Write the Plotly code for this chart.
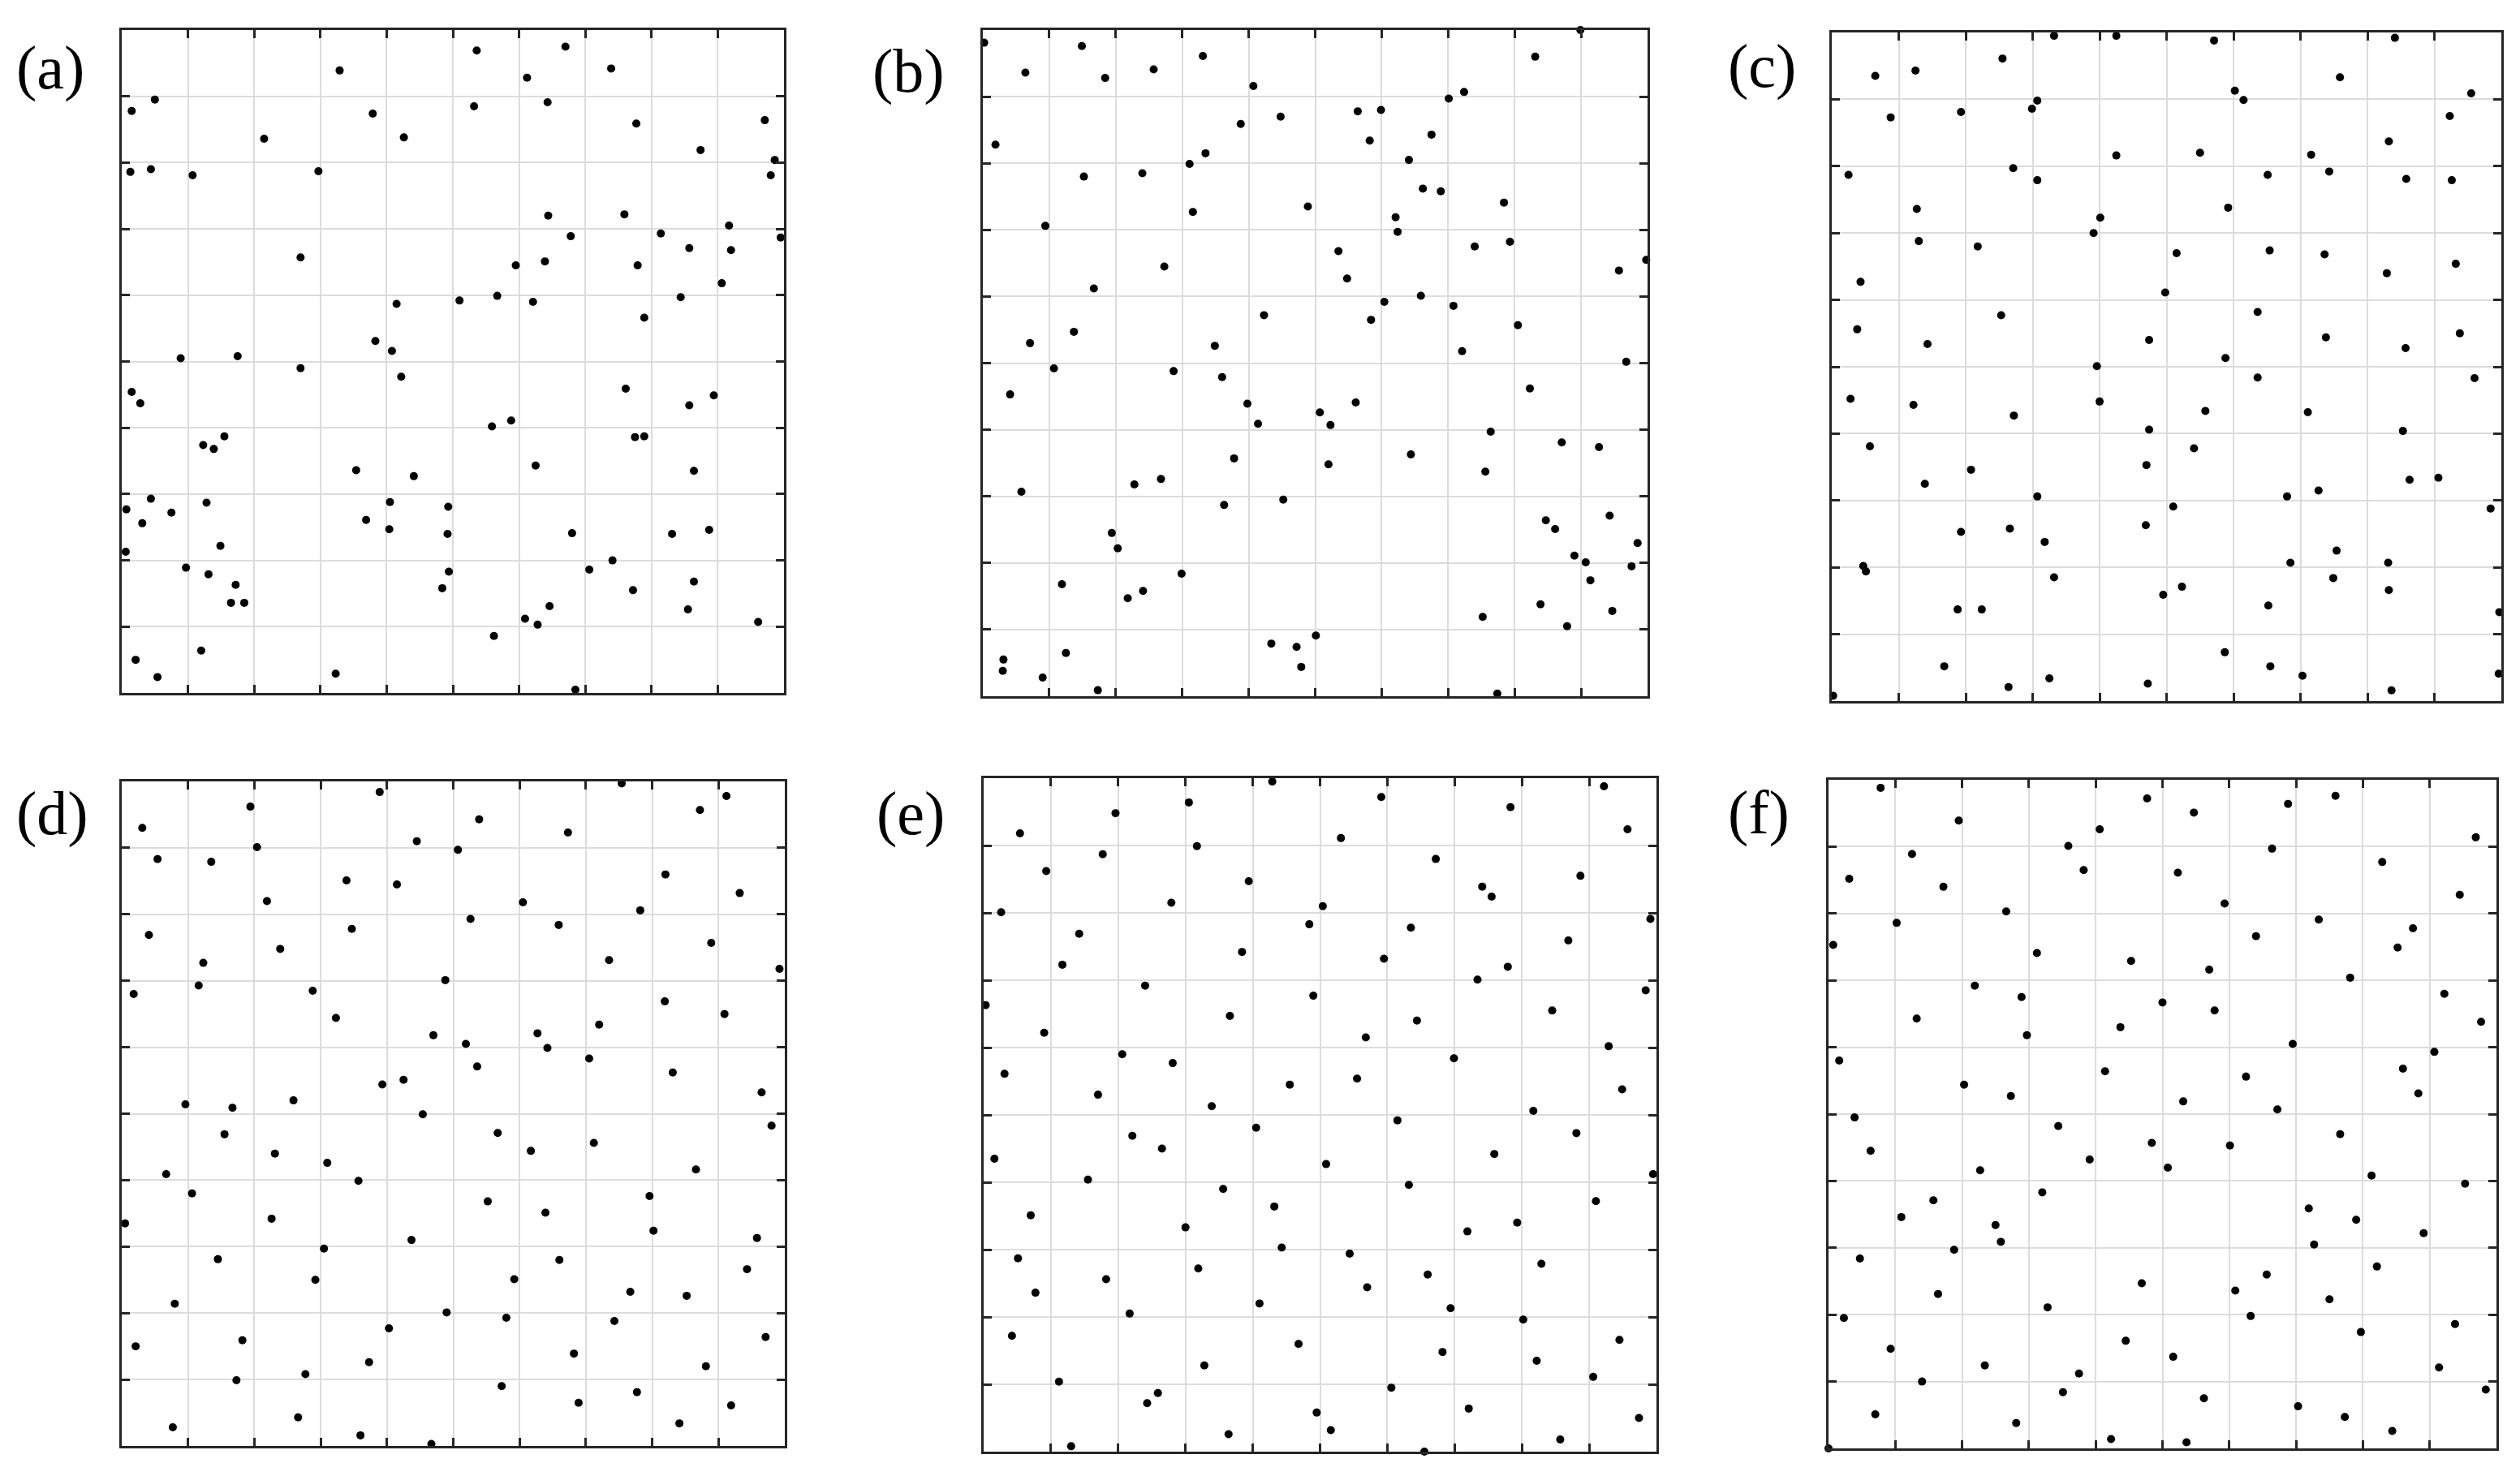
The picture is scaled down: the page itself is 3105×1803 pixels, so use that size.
import plotly.graph_objects as go

# ---------------- data (unit square, 6 point sets) ----------------
a_x = [0.536,0.670,0.329,0.739,0.612,0.050,0.015,0.532,0.643,0.379,0.777,0.971,0.215,0.426,0.874,0.986,0.013,0.044,0.107,0.297,
       0.980,0.644,0.759,0.917,0.678,0.814,0.995,0.857,0.920,0.270,0.639,0.595,0.779,0.906,0.510,0.567,0.621,0.415,0.844,0.789,
       0.383,0.408,0.089,0.175,0.270,0.422,0.015,0.028,0.761,0.857,0.894,0.559,0.588,0.123,0.139,0.155,0.775,0.789,0.354,0.441,
       0.625,0.864,0.007,0.044,0.075,0.128,0.031,0.405,0.493,0.369,0.404,0.492,0.680,0.831,0.887,0.006,0.149,0.097,0.131,0.172,
       0.165,0.185,0.494,0.484,0.706,0.741,0.772,0.864,0.646,0.855,0.609,0.628,0.961,0.562,0.120,0.021,0.054,0.323,0.685]
a_y = [0.969,0.975,0.939,0.942,0.928,0.895,0.878,0.885,0.891,0.874,0.859,0.864,0.836,0.838,0.819,0.804,0.786,0.790,0.781,0.787,
       0.781,0.720,0.722,0.705,0.689,0.693,0.687,0.671,0.668,0.657,0.651,0.645,0.645,0.618,0.592,0.599,0.590,0.587,0.597,0.566,
       0.531,0.516,0.505,0.508,0.490,0.477,0.454,0.437,0.459,0.434,0.449,0.402,0.411,0.374,0.368,0.387,0.386,0.387,0.336,0.327,
       0.343,0.335,0.277,0.293,0.272,0.287,0.256,0.288,0.281,0.261,0.247,0.240,0.241,0.240,0.246,0.213,0.222,0.189,0.179,0.163,
       0.136,0.136,0.183,0.158,0.186,0.200,0.155,0.168,0.131,0.126,0.112,0.103,0.107,0.086,0.064,0.050,0.024,0.029,0.005]

b_x = [0.002,0.149,0.331,0.899,0.831,0.064,0.257,0.184,0.407,0.724,0.701,0.564,0.599,0.448,0.388,0.675,0.582,0.019,0.335,0.641,
       0.311,0.240,0.152,0.662,0.689,0.784,0.489,0.316,0.621,0.094,0.624,0.793,0.740,0.535,0.998,0.273,0.957,0.548,0.167,0.659,
       0.604,0.708,0.423,0.584,0.805,0.137,0.071,0.349,0.721,0.968,0.107,0.287,0.360,0.823,0.041,0.398,0.561,0.507,0.523,0.414,
       0.764,0.871,0.927,0.644,0.378,0.520,0.756,0.268,0.228,0.058,0.452,0.363,0.943,0.847,0.861,0.194,0.203,0.985,0.890,0.907,
       0.976,0.299,0.914,0.119,0.241,0.218,0.839,0.947,0.752,0.879,0.501,0.434,0.472,0.125,0.031,0.030,0.479,0.090,0.173,0.774]
b_y = [0.981,0.976,0.961,1.000,0.960,0.936,0.941,0.928,0.916,0.907,0.897,0.878,0.880,0.870,0.859,0.843,0.834,0.828,0.815,0.805,
       0.799,0.785,0.780,0.762,0.758,0.741,0.735,0.727,0.719,0.706,0.697,0.682,0.675,0.668,0.655,0.645,0.639,0.627,0.612,0.601,
       0.592,0.586,0.572,0.565,0.557,0.547,0.530,0.526,0.518,0.502,0.492,0.488,0.479,0.462,0.453,0.439,0.441,0.426,0.407,0.409,
       0.397,0.381,0.374,0.363,0.357,0.348,0.337,0.326,0.318,0.307,0.295,0.287,0.271,0.264,0.251,0.245,0.222,0.230,0.211,0.201,
       0.195,0.184,0.174,0.168,0.158,0.147,0.138,0.128,0.119,0.105,0.091,0.079,0.074,0.065,0.055,0.038,0.044,0.028,0.009,0.004]

c_x = [0.332,0.425,0.571,0.841,0.255,0.065,0.125,0.759,0.602,0.615,0.955,0.307,0.299,0.193,0.088,0.923,0.832,0.550,0.425,0.716,
       0.271,0.743,0.025,0.651,0.307,0.858,0.926,0.592,0.127,0.401,0.391,0.130,0.218,0.515,0.654,0.736,0.932,0.829,0.043,0.498,
       0.253,0.636,0.038,0.143,0.474,0.738,0.938,0.857,0.588,0.396,0.636,0.960,0.028,0.122,0.400,0.558,0.711,0.272,0.474,0.853,
       0.057,0.541,0.470,0.208,0.139,0.863,0.906,0.727,0.307,0.680,0.510,0.984,0.469,0.266,0.193,0.318,0.754,0.685,0.831,0.047,
       0.051,0.332,0.749,0.523,0.495,0.832,0.652,0.188,0.224,0.997,0.587,0.168,0.655,0.325,0.703,0.996,0.264,0.472,0.836,0.002]
c_y = [0.995,0.995,0.988,0.992,0.961,0.935,0.943,0.933,0.913,0.899,0.909,0.898,0.886,0.881,0.873,0.875,0.837,0.820,0.816,0.817,
       0.797,0.792,0.787,0.787,0.779,0.781,0.779,0.738,0.736,0.723,0.700,0.688,0.680,0.670,0.674,0.668,0.654,0.640,0.627,0.611,
       0.577,0.582,0.556,0.534,0.540,0.544,0.550,0.528,0.513,0.501,0.484,0.483,0.452,0.443,0.448,0.434,0.432,0.427,0.406,0.404,
       0.381,0.378,0.353,0.346,0.325,0.331,0.334,0.315,0.306,0.306,0.291,0.288,0.263,0.258,0.253,0.238,0.225,0.207,0.207,0.202,
       0.194,0.185,0.184,0.171,0.159,0.166,0.143,0.137,0.137,0.133,0.073,0.052,0.052,0.034,0.038,0.041,0.021,0.026,0.016,0.008]

d_x = [0.754,0.389,0.912,0.194,0.872,0.539,0.031,0.673,0.445,0.204,0.507,0.054,0.135,0.820,0.339,0.415,0.932,0.219,0.605,0.782,
       0.526,0.659,0.347,0.041,0.889,0.239,0.123,0.735,0.992,0.488,0.116,0.018,0.288,0.819,0.909,0.323,0.720,0.627,0.470,0.519,
       0.642,0.705,0.536,0.831,0.425,0.393,0.965,0.259,0.096,0.167,0.454,0.980,0.567,0.155,0.712,0.617,0.231,0.310,0.866,0.067,
       0.357,0.106,0.796,0.552,0.639,0.005,0.226,0.802,0.958,0.437,0.305,0.145,0.660,0.943,0.292,0.592,0.767,0.852,0.080,0.490,
       0.580,0.743,0.403,0.971,0.182,0.021,0.682,0.373,0.881,0.277,0.173,0.573,0.777,0.689,0.919,0.266,0.841,0.077,0.360,0.467]
d_y = [0.997,0.984,0.978,0.962,0.957,0.943,0.930,0.923,0.910,0.901,0.897,0.883,0.879,0.860,0.851,0.845,0.832,0.820,0.818,0.806,
       0.793,0.784,0.778,0.769,0.757,0.748,0.727,0.731,0.718,0.701,0.693,0.680,0.685,0.669,0.650,0.644,0.634,0.621,0.618,0.605,
       0.599,0.583,0.571,0.562,0.551,0.544,0.532,0.520,0.514,0.509,0.499,0.482,0.471,0.469,0.456,0.444,0.440,0.426,0.416,0.409,
       0.399,0.380,0.376,0.368,0.351,0.335,0.342,0.324,0.313,0.310,0.297,0.281,0.280,0.266,0.250,0.251,0.232,0.226,0.214,0.201,
       0.193,0.188,0.177,0.164,0.159,0.150,0.139,0.126,0.120,0.108,0.099,0.090,0.081,0.065,0.061,0.043,0.034,0.028,0.016,0.003]

e_x = [0.429,0.922,0.305,0.591,0.783,0.196,0.957,0.054,0.531,0.317,0.177,0.672,0.093,0.887,0.394,0.741,0.755,0.279,0.504,0.026,
       0.991,0.484,0.635,0.142,0.869,0.384,0.595,0.117,0.779,0.734,0.240,0.984,0.490,0.003,0.845,0.366,0.644,0.090,0.568,0.929,
       0.206,0.699,0.281,0.031,0.555,0.455,0.949,0.170,0.339,0.817,0.615,0.405,0.881,0.221,0.265,0.759,0.016,0.509,0.995,0.155,
       0.632,0.356,0.910,0.432,0.070,0.300,0.793,0.719,0.443,0.544,0.051,0.829,0.660,0.319,0.182,0.077,0.570,0.410,0.694,0.217,
       0.802,0.945,0.042,0.468,0.682,0.822,0.328,0.906,0.112,0.606,0.259,0.243,0.721,0.495,0.974,0.516,0.364,0.857,0.130,0.655]
e_y = [0.995,0.988,0.964,0.972,0.957,0.948,0.924,0.918,0.911,0.899,0.887,0.880,0.862,0.855,0.847,0.839,0.824,0.815,0.810,0.801,
       0.791,0.783,0.778,0.769,0.759,0.742,0.732,0.723,0.720,0.701,0.692,0.685,0.677,0.663,0.655,0.647,0.640,0.622,0.615,0.602,
       0.590,0.584,0.577,0.561,0.554,0.545,0.538,0.530,0.513,0.506,0.492,0.481,0.473,0.469,0.450,0.442,0.435,0.427,0.412,0.404,
       0.396,0.390,0.372,0.364,0.351,0.333,0.340,0.327,0.303,0.294,0.287,0.279,0.263,0.272,0.256,0.236,0.244,0.220,0.213,0.205,
       0.196,0.166,0.172,0.160,0.148,0.135,0.128,0.111,0.104,0.095,0.087,0.072,0.064,0.058,0.050,0.032,0.026,0.018,0.008,0.000]

f_x = [0.078,0.759,0.477,0.688,0.547,0.195,0.406,0.969,0.359,0.664,0.125,0.829,0.382,0.523,0.031,0.172,0.945,0.593,0.266,0.734,
       0.102,0.875,0.640,0.007,0.852,0.312,0.453,0.570,0.781,0.219,0.922,0.289,0.500,0.578,0.132,0.977,0.437,0.297,0.695,0.907,
       0.016,0.860,0.414,0.625,0.203,0.883,0.273,0.531,0.672,0.039,0.344,0.766,0.484,0.601,0.063,0.391,0.508,0.227,0.813,0.953,
       0.320,0.157,0.719,0.109,0.790,0.250,0.891,0.258,0.727,0.188,0.047,0.821,0.656,0.469,0.164,0.609,0.750,0.328,0.632,0.023,
       0.938,0.797,0.445,0.093,0.516,0.234,0.914,0.375,0.140,0.984,0.351,0.562,0.703,0.070,0.773,0.281,0.844,0.423,0.536,0.000]
f_y = [0.988,0.976,0.972,0.964,0.951,0.939,0.926,0.914,0.901,0.897,0.889,0.877,0.865,0.861,0.852,0.840,0.828,0.815,0.803,0.791,
       0.786,0.778,0.766,0.753,0.749,0.741,0.729,0.716,0.704,0.692,0.680,0.675,0.667,0.655,0.643,0.638,0.630,0.618,0.605,0.593,
       0.580,0.568,0.564,0.556,0.544,0.531,0.527,0.519,0.507,0.495,0.482,0.470,0.457,0.453,0.445,0.432,0.420,0.416,0.408,0.396,
       0.383,0.371,0.359,0.346,0.342,0.334,0.322,0.309,0.305,0.297,0.284,0.272,0.260,0.247,0.231,0.236,0.223,0.211,0.198,0.195,
       0.186,0.174,0.161,0.149,0.137,0.124,0.121,0.112,0.100,0.088,0.084,0.075,0.063,0.051,0.047,0.038,0.026,0.014,0.009,0.000]

panel_labels = ["(a)", "(b)", "(c)", "(d)", "(e)", "(f)"]
grid_ticks = [i / 10 for i in range(11)]

# ---------------- layout geometry ----------------
W, H = 3105, 1803
# (left, right, top, bottom) in pixels
boxes = [(142, 958, 29, 846), (1203, 2022, 29, 850), (2249, 3074, 32, 856),
         (142, 959, 955, 1774), (1204, 2033, 951, 1781), (2245, 3068, 953, 1777)]
label_pos = [(10, 76), (1065, 80), (2119, 74), (10, 995), (1070, 995), (2119, 994)]

datasets = [(a_x, a_y), (b_x, b_y), (c_x, c_y), (d_x, d_y), (e_x, e_y), (f_x, f_y)]

fig = go.Figure()
layout = dict(width=W, height=H, margin=dict(l=0, r=0, t=0, b=0),
              paper_bgcolor="white", plot_bgcolor="white", showlegend=False,
              annotations=[])

for i, ((xs, ys), (l, r, t, b)) in enumerate(zip(datasets, boxes)):
    n = "" if i == 0 else str(i + 1)
    fig.add_trace(go.Scatter(x=xs, y=ys, mode="markers", xaxis="x" + n, yaxis="y" + n,
                             cliponaxis=False,
                             marker=dict(size=10, color="black"), hoverinfo="skip"))
    common = dict(range=[0, 1], tickvals=grid_ticks, showticklabels=False, ticks="inside",
                  ticklen=10, tickwidth=3, tickcolor="#262626", showline=True,
                  linecolor="#262626", linewidth=3, mirror="ticks", showgrid=True,
                  gridcolor="#dcdcdc", gridwidth=2.3, zeroline=False, fixedrange=True)
    layout["xaxis" + n] = dict(domain=[l / W, r / W], anchor="y" + n, **common)
    layout["yaxis" + n] = dict(domain=[1 - b / H, 1 - t / H], anchor="x" + n, **common)
    lx, ly = label_pos[i]
    layout["annotations"].append(dict(text=panel_labels[i], xref="paper", yref="paper",
                                      x=lx / W, y=1 - ly / H, xanchor="left", yanchor="middle",
                                      showarrow=False,
                                      font=dict(family="Liberation Serif, Times New Roman, serif",
                                                size=76, color="black")))

fig.update_layout(**layout)
fig.write_html("out.html")
